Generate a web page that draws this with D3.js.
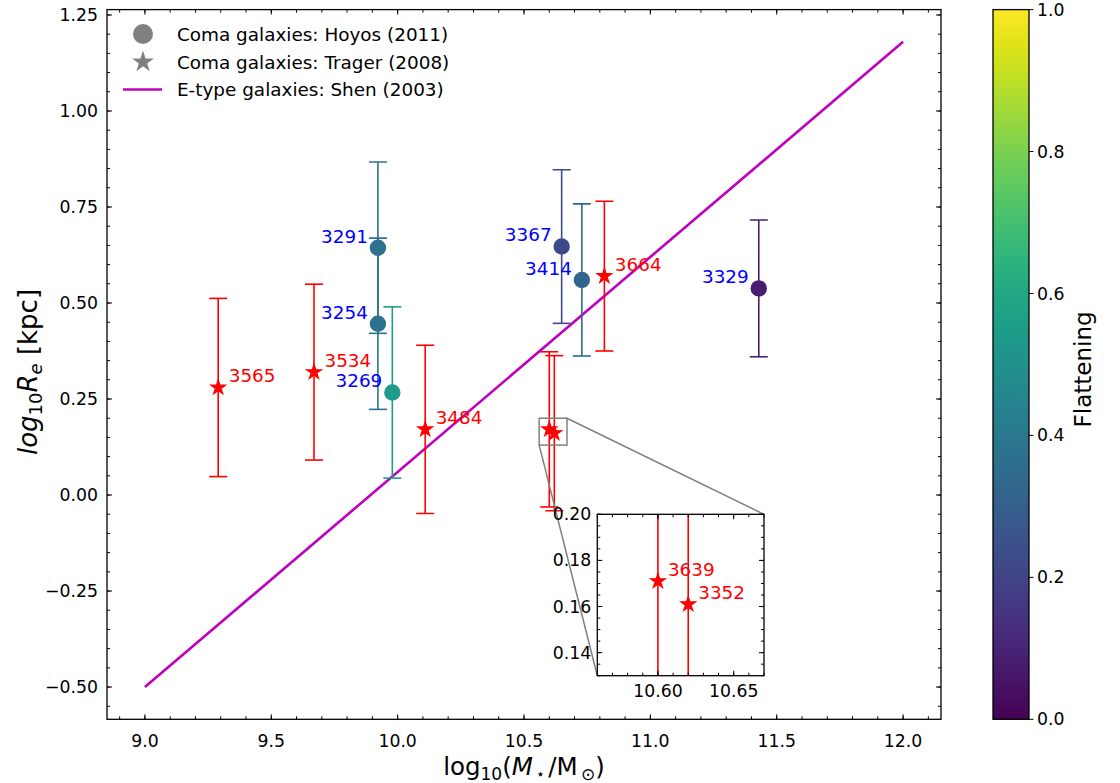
<!DOCTYPE html>
<html><head><meta charset="utf-8">
<script src="https://cdn.jsdelivr.net/npm/d3@7"></script>
<style>
body{margin:0;background:#fff;}
svg{display:block;}
text{font-family:"DejaVu Sans",sans-serif;}
</style></head>
<body>
<svg id="chart" width="1120" height="783"></svg>
<script>
// ---------- data ----------
const hoyosIds  = ["3291","3254","3269","3367","3414","3329"];
const hoyosMass = [9.922, 9.922, 9.979, 10.649, 10.729, 11.429];
const hoyosRe   = [0.644, 0.446, 0.267, 0.647, 0.560, 0.538];
const hoyosErr  = [0.223, 0.223, 0.223, 0.200, 0.198, 0.178];
const hoyosFlat = [0.37, 0.37, 0.55, 0.22, 0.32, 0.08];

const tragerIds  = ["3565","3534","3484","3664","3639","3352"];
const tragerMass = [9.290, 9.669, 10.109, 10.818, 10.600, 10.620];
const tragerRe   = [0.280, 0.320, 0.171, 0.570, 0.171, 0.161];
const tragerErr  = [0.232, 0.229, 0.219, 0.195, 0.202, 0.202];
const tragerInMain = [true, true, true, true, false, false];

const shenMass = [9.0, 12.0];
const shenRe   = [-0.50, 1.18];

const xTicks = [9.0, 9.5, 10.0, 10.5, 11.0, 11.5, 12.0];
const yTicks = [-0.50, -0.25, 0.00, 0.25, 0.50, 0.75, 1.00, 1.25];
const insetXTicks = [10.60, 10.65];
const insetYTicks = [0.14, 0.16, 0.18, 0.20];
const cbTicks = [0.0, 0.2, 0.4, 0.6, 0.8, 1.0];
const legendLabels = ["Coma galaxies: Hoyos (2011)", "Coma galaxies: Trager (2008)", "E-type galaxies: Shen (2003)"];

// ---------- layout ----------
const svg = d3.select("#chart");
const M = {l:107, r:941, t:9.6, b:719.3};
const x = d3.scaleLinear().domain([8.85, 12.15]).range([M.l, M.r]);
const y = d3.scaleLinear().domain([-0.584, 1.264]).range([M.b, M.t]);
const I = {l:597.3, r:764, t:514.3, b:675.7};
const xi = d3.scaleLinear().domain([10.56, 10.67]).range([I.l, I.r]);
const yi = d3.scaleLinear().domain([0.13, 0.20]).range([I.b, I.t]);
const cmap = d3.interpolateViridis;
const MAG = "#bf00bf", RED = "#ff0000", GRAY = "#808080";
const TICKFS = 17.3, LABFS = 18.4;

function starPath(R){
  const r = R*0.382;
  let p = [];
  for(let k=0;k<10;k++){
    const a = -Math.PI/2 + k*Math.PI/5;
    const rr = k%2===0 ? R : r;
    p.push([rr*Math.cos(a), rr*Math.sin(a)]);
  }
  return "M"+p.map(d=>d[0].toFixed(2)+","+d[1].toFixed(2)).join("L")+"Z";
}

function range(a,b,s){const out=[];for(let v=a;v<=b+1e-9;v+=s)out.push(+v.toFixed(6));return out;}

// generic inward ticks on all four sides
function drawFrame(g, xs, ys, xMaj, xMin, yMaj, yMin, L){
  const [x0,x1] = xs.range(), [y0,y1] = ys.range(); // y0 bottom, y1 top
  const tk = g.append("g").attr("stroke","#000").attr("stroke-width",1);
  xMin.forEach(v=>{const px=xs(v);
    tk.append("line").attr("x1",px).attr("x2",px).attr("y1",y0).attr("y2",y0-L.min);
    tk.append("line").attr("x1",px).attr("x2",px).attr("y1",y1).attr("y2",y1+L.min);});
  xMaj.forEach(v=>{const px=xs(v);
    tk.append("line").attr("x1",px).attr("x2",px).attr("y1",y0).attr("y2",y0-L.maj);
    tk.append("line").attr("x1",px).attr("x2",px).attr("y1",y1).attr("y2",y1+L.maj);});
  yMin.forEach(v=>{const py=ys(v);
    tk.append("line").attr("y1",py).attr("y2",py).attr("x1",x0).attr("x2",x0+L.min);
    tk.append("line").attr("y1",py).attr("y2",py).attr("x1",x1).attr("x2",x1-L.min);});
  yMaj.forEach(v=>{const py=ys(v);
    tk.append("line").attr("y1",py).attr("y2",py).attr("x1",x0).attr("x2",x0+L.maj);
    tk.append("line").attr("y1",py).attr("y2",py).attr("x1",x1).attr("x2",x1-L.maj);});
  g.append("rect").attr("x",x0).attr("y",y1).attr("width",x1-x0).attr("height",y0-y1)
    .attr("fill","none").attr("stroke","#000").attr("stroke-width",1.3);
}
function fmtMinus(s){return s.replace("-","\u2212");}

// ---------- main axes ----------
const main = svg.append("g");
const defs = svg.append("defs");
defs.append("clipPath").attr("id","clipMain").append("rect")
  .attr("x",M.l).attr("y",M.t).attr("width",M.r-M.l).attr("height",M.b-M.t);
const plot = main.append("g").attr("clip-path","url(#clipMain)");

// Shen line
plot.append("path").datum(shenMass.map((m,i)=>[m,shenRe[i]]))
  .attr("d", d3.line().x(d=>x(d[0])).y(d=>y(d[1])))
  .attr("fill","none").attr("stroke",MAG).attr("stroke-width",2.6);

function errBar(g, xs, ys, m, v, e, color, cap){
  const px = xs(m);
  g.append("line").attr("x1",px).attr("x2",px).attr("y1",ys(v-e)).attr("y2",ys(v+e))
    .attr("stroke",color).attr("stroke-width",1.6);
  [v-e, v+e].forEach(t=>g.append("line").attr("x1",px-cap).attr("x2",px+cap)
    .attr("y1",ys(t)).attr("y2",ys(t)).attr("stroke",color).attr("stroke-width",1.6));
}

// Hoyos error bars + circles
hoyosMass.forEach((m,i)=>errBar(plot, x, y, m, hoyosRe[i], hoyosErr[i], cmap(hoyosFlat[i]), 9));
hoyosMass.forEach((m,i)=>plot.append("circle").attr("cx",x(m)).attr("cy",y(hoyosRe[i]))
  .attr("r",8.2).attr("fill",cmap(hoyosFlat[i])));
// Trager error bars + stars
tragerMass.forEach((m,i)=>errBar(plot, x, y, m, tragerRe[i], tragerErr[i], RED, 9));
tragerMass.forEach((m,i)=>plot.append("path").attr("d",starPath(7.6))
  .attr("transform",`translate(${x(m)},${y(tragerRe[i])})`).attr("fill",RED)
  .attr("stroke",RED).attr("stroke-width",1.3).attr("stroke-linejoin","miter"));

// labels
hoyosIds.forEach((id,i)=>main.append("text").attr("x",x(hoyosMass[i])-10).attr("y",y(hoyosRe[i])-5.2)
  .attr("text-anchor","end").attr("font-size",LABFS).attr("fill","#0000ff").text(id));
tragerIds.forEach((id,i)=>{ if(!tragerInMain[i]) return;
  main.append("text").attr("x",x(tragerMass[i])+10.5).attr("y",y(tragerRe[i])-5.2)
  .attr("font-size",LABFS).attr("fill",RED).text(id);});

drawFrame(main, x, y, xTicks, range(8.9,12.1,0.1), yTicks, range(-0.55,1.25,0.05), {maj:5,min:3});

// tick labels
xTicks.forEach(v=>main.append("text").attr("x",x(v)).attr("y",M.b+28).attr("text-anchor","middle")
  .attr("font-size",TICKFS).text(d3.format(".1f")(v)));
yTicks.forEach(v=>main.append("text").attr("x",M.l-9).attr("y",y(v)).attr("dy","0.35em").attr("text-anchor","end")
  .attr("font-size",TICKFS).text(fmtMinus(d3.format(".2f")(v))));

// x label
{
  const t = main.append("text").attr("x",(M.l+M.r)/2).attr("y",775).attr("text-anchor","middle").attr("font-size",24.5);
  t.append("tspan").text("log");
  t.append("tspan").attr("font-size",17).attr("dy",5).text("10");
  t.append("tspan").attr("dy",-5).text("(");
  t.append("tspan").attr("font-style","italic").text("M");
  t.append("tspan").attr("font-size",15).attr("dy",4).text("\u2009\u22C6\u2009");
  t.append("tspan").attr("dy",-4).text("/M");
  t.append("tspan").attr("font-size",17).attr("dy",5).text("\u2009\u2299");
  t.append("tspan").attr("dy",-5).text(")");
}
// y label
{
  const cx = 37, cy = 372;
  const t = main.append("text").attr("transform",`translate(${cx},${cy}) rotate(-90)`).attr("text-anchor","middle").attr("font-size",26);
  t.append("tspan").attr("font-style","italic").text("log");
  t.append("tspan").attr("font-size",18).attr("dy",5).text("10");
  t.append("tspan").attr("dy",-5).attr("font-style","italic").text("R");
  t.append("tspan").attr("font-size",18).attr("dy",5).attr("font-style","italic").text("e");
  t.append("tspan").attr("dy",-5).text(" [kpc]");
}

// legend
{
  const lg = main.append("g");
  lg.append("circle").attr("cx",143).attr("cy",34).attr("r",10).attr("fill",GRAY);
  lg.append("path").attr("d",starPath(9.3)).attr("transform","translate(143,62)").attr("fill",GRAY)
    .attr("stroke",GRAY).attr("stroke-width",1.3);
  lg.append("line").attr("x1",123).attr("x2",162).attr("y1",89.5).attr("y2",89.5).attr("stroke",MAG).attr("stroke-width",2.6);
  [34,62,89.5].forEach((cy,i)=>lg.append("text").attr("x",177).attr("y",cy).attr("dy","0.36em")
    .attr("font-size",LABFS).text(legendLabels[i]));
}

// zoom box and connectors
main.append("rect").attr("x",x(10.56)).attr("y",y(0.20))
  .attr("width",x(10.67)-x(10.56)).attr("height",y(0.13)-y(0.20))
  .attr("fill","none").attr("stroke",GRAY).attr("stroke-width",1.5);
main.append("line").attr("x1",x(10.67)).attr("y1",y(0.20)).attr("x2",I.r).attr("y2",I.t)
  .attr("stroke",GRAY).attr("stroke-width",1.5);
main.append("line").attr("x1",x(10.56)).attr("y1",y(0.13)).attr("x2",I.l).attr("y2",I.b)
  .attr("stroke",GRAY).attr("stroke-width",1.5);

// ---------- inset ----------
const ins = svg.append("g");
ins.append("rect").attr("x",I.l).attr("y",I.t).attr("width",I.r-I.l).attr("height",I.b-I.t).attr("fill","#fff");
defs.append("clipPath").attr("id","clipIns").append("rect")
  .attr("x",I.l).attr("y",I.t).attr("width",I.r-I.l).attr("height",I.b-I.t);
const iplot = ins.append("g").attr("clip-path","url(#clipIns)");
tragerMass.forEach((m,i)=>errBar(iplot, xi, yi, m, tragerRe[i], tragerErr[i], RED, 9));
tragerMass.forEach((m,i)=>iplot.append("path").attr("d",starPath(7.6))
  .attr("transform",`translate(${xi(m)},${yi(tragerRe[i])})`).attr("fill",RED)
  .attr("stroke",RED).attr("stroke-width",1.3));
tragerIds.forEach((id,i)=>{ if(tragerInMain[i]) return;
  ins.append("text").attr("x",xi(tragerMass[i])+10).attr("y",yi(tragerRe[i])-5.2)
  .attr("font-size",LABFS).attr("fill",RED).text(id);});
drawFrame(ins, xi, yi, insetXTicks, range(10.56,10.67,0.01), insetYTicks, range(0.13,0.20,0.005), {maj:5,min:3});
insetXTicks.forEach(v=>ins.append("text").attr("x",xi(v)).attr("y",I.b+21).attr("text-anchor","middle")
  .attr("font-size",TICKFS).text(d3.format(".2f")(v)));
insetYTicks.forEach(v=>ins.append("text").attr("x",I.l-6).attr("y",yi(v)).attr("dy","0.35em").attr("text-anchor","end")
  .attr("font-size",TICKFS).text(d3.format(".2f")(v)));

// ---------- colorbar ----------
{
  const C = {l:993, r:1029, t:M.t, b:M.b};
  const cs = d3.scaleLinear().domain([0,1]).range([C.b, C.t]);
  const grad = defs.append("linearGradient").attr("id","vir")
    .attr("x1",0).attr("y1",1).attr("x2",0).attr("y2",0);
  d3.range(0,1.0001,0.05).forEach(t=>grad.append("stop").attr("offset",t).attr("stop-color",cmap(t)));
  const cb = svg.append("g");
  cb.append("rect").attr("x",C.l).attr("y",C.t).attr("width",C.r-C.l).attr("height",C.b-C.t)
    .attr("fill","url(#vir)").attr("stroke","#000").attr("stroke-width",1.3);
  cbTicks.forEach(v=>{
    cb.append("line").attr("x1",C.r).attr("x2",C.r+4.5).attr("y1",cs(v)).attr("y2",cs(v)).attr("stroke","#000");
    cb.append("text").attr("x",C.r+8).attr("y",cs(v)).attr("dy","0.35em").attr("font-size",TICKFS).text(d3.format(".1f")(v));
  });
  cb.append("text").attr("transform",`translate(1083,${(C.t+C.b)/2+5}) rotate(-90)`).attr("text-anchor","middle")
    .attr("dy","0.35em").attr("font-size",23).text("Flattening");
}
</script>
</body></html>
